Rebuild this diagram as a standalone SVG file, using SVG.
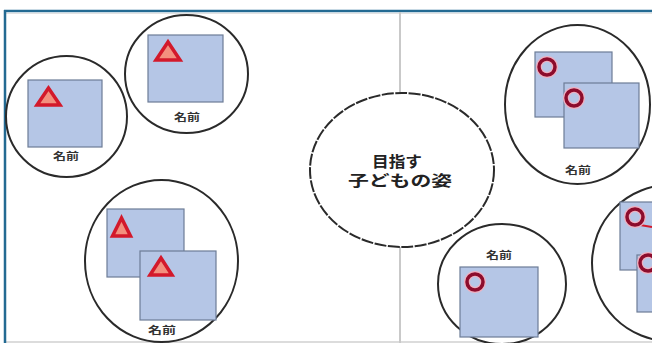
<svg xmlns="http://www.w3.org/2000/svg" width="652" height="343" viewBox="0 0 652 343">
<style>
.ring{fill:#ffffff;stroke:#2a2a2a;stroke-width:2}
.sq{fill:#b5c6e6;stroke:#6d7c97;stroke-width:1.2}
.tri{fill:#f3907e;stroke:#d3192b;stroke-width:3.5;stroke-linejoin:miter}
.oo{fill:none;stroke:#8c0c2c;stroke-width:3.5}
.halo{fill:none;stroke:#eeb0c0;stroke-width:6}
.lbl{font-family:"Noto Sans CJK JP","Noto Sans",sans-serif;font-weight:bold;font-size:10px;fill:#333;text-anchor:middle}
.main{font-family:"Noto Sans CJK JP","Noto Sans",sans-serif;font-weight:bold;font-size:15px;fill:#222;text-anchor:middle}
</style>
<rect x="0" y="0" width="652" height="343" fill="#ffffff"/>
<g id="frame">
<line x1="4" y1="13.5" x2="652" y2="13.5" stroke="#e2e2e2" stroke-width="1"/>
<line x1="4" y1="342" x2="652" y2="342" stroke="#d0d0d0" stroke-width="1.5"/>
<line x1="4" y1="11" x2="652" y2="11" stroke="#236a92" stroke-width="2.5"/>
<line x1="5" y1="10" x2="5" y2="343" stroke="#236a92" stroke-width="2.5"/>
</g>
<g id="connectors">
<line x1="400" y1="12" x2="400" y2="343" stroke="#c9c9c9" stroke-width="2"/>
</g>
<g id="goal">
<ellipse class="ring" cx="402" cy="170" rx="92" ry="77" stroke="#3a3a3a" stroke-width="1.8" stroke-dasharray="12 1.5"/>
<text class="main" x="397" y="167" textLength="50" lengthAdjust="spacingAndGlyphs">目指す</text>
<text class="main" x="400" y="186" textLength="104" lengthAdjust="spacingAndGlyphs" font-size="14">子どもの姿</text>
</g>
<g id="groupA">
<ellipse class="ring" cx="66.5" cy="116.5" rx="60.5" ry="60.5"/>
<rect class="sq" x="28" y="80" width="74" height="67"/>
<polygon class="tri" points="48.5,88 37,105 60,105"/>
<text class="lbl" x="66" y="160" textLength="26" lengthAdjust="spacingAndGlyphs">名前</text>
</g>
<g id="groupB">
<ellipse class="ring" cx="186.5" cy="74" rx="61.5" ry="59"/>
<rect class="sq" x="148" y="35" width="75" height="67"/>
<polygon class="tri" points="168,42 156,60 180,60"/>
<text class="lbl" x="187" y="121" textLength="26" lengthAdjust="spacingAndGlyphs">名前</text>
</g>
<g id="groupC">
<ellipse class="ring" cx="161.5" cy="261" rx="76.5" ry="81"/>
<rect class="sq" x="107" y="209" width="77" height="68"/>
<rect class="sq" x="140" y="251" width="76" height="69"/>
<polygon class="tri" points="121.5,218 112.5,236 130.5,236"/>
<polygon class="tri" points="161,258 150,275 172,275"/>
<text class="lbl" x="162" y="334" textLength="28" lengthAdjust="spacingAndGlyphs">名前</text>
</g>
<g id="groupD">
<ellipse class="ring" cx="577.5" cy="104.5" rx="72.5" ry="79.5"/>
<rect class="sq" x="535" y="52" width="77" height="65"/>
<rect class="sq" x="564" y="83" width="75" height="65"/>
<circle class="halo" cx="547" cy="67" r="8"/>
<circle class="oo" cx="547" cy="67" r="8"/>
<circle class="halo" cx="574" cy="98" r="8"/>
<circle class="oo" cx="574" cy="98" r="8"/>
<text class="lbl" x="578" y="174" textLength="26" lengthAdjust="spacingAndGlyphs">名前</text>
</g>
<g id="groupE">
<ellipse class="ring" cx="502" cy="284" rx="64" ry="60"/>
<rect class="sq" x="460" y="267" width="78" height="70"/>
<circle class="halo" cx="475" cy="282" r="8"/>
<circle class="oo" cx="475" cy="282" r="8"/>
<text class="lbl" x="499" y="259" textLength="26" lengthAdjust="spacingAndGlyphs">名前</text>
</g>
<g id="groupF">
<ellipse class="ring" cx="670" cy="263" rx="78" ry="78"/>
<rect class="sq" x="620" y="202" width="40" height="68"/>
<rect class="sq" x="637" y="255" width="30" height="57"/>
<line x1="640" y1="225" x2="652" y2="227" stroke="#d3192b" stroke-width="2"/>
<circle class="halo" cx="635" cy="217" r="8"/>
<circle class="oo" cx="635" cy="217" r="8"/>
<circle class="halo" cx="648" cy="263" r="8"/>
<circle class="oo" cx="648" cy="263" r="8"/>
</g>
</svg>
